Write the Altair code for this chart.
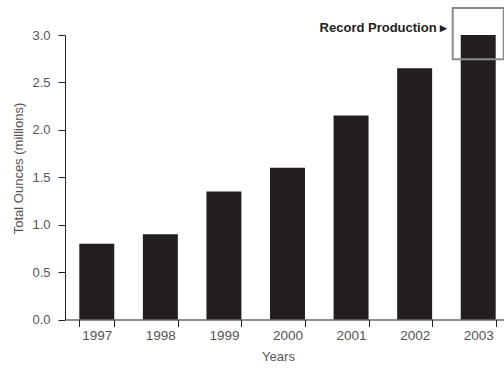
import altair as alt
import pandas as pd

years = ["1997", "1998", "1999", "2000", "2001", "2002", "2003"]
ounces = [0.8, 0.9, 1.35, 1.6, 2.15, 2.65, 3.0]

df = pd.DataFrame({"Year": years, "Ounces": ounces})
note = pd.DataFrame({"Year": ["2003"], "y": [3.072], "label": ["Record Production \u25b8"]})
box = pd.DataFrame({"Year": ["2003"], "top": [3.285], "bottom": [2.745]})

FONT = "Liberation Sans"

xscale = alt.Scale(domain=years, range=[0, 445], paddingInner=0.45, paddingOuter=0.225)
yscale = alt.Scale(domain=[0, 3], nice=False, zero=True)

bars = alt.Chart(df).mark_bar(color="#231f20").encode(
    x=alt.X("Year:N", scale=xscale, sort=years,
            axis=alt.Axis(title="Years", labelAngle=0, tickBand="extent", tickSize=7,
                          labelPadding=2, titlePadding=8, titleX=213, labelFontSize=13.5)),
    y=alt.Y("Ounces:Q", scale=yscale,
            axis=alt.Axis(title="Total Ounces (millions)", values=[0, 0.5, 1, 1.5, 2, 2.5, 3],
                          format=".1f", tickSize=7, labelPadding=8, grid=False,
                          titlePadding=6, titleY=133)),
)

rect = alt.Chart(box).mark_bar(filled=False, stroke="#8a8a8a", strokeWidth=2, size=51).encode(
    x=alt.X("Year:N", scale=xscale, sort=years),
    y=alt.Y("top:Q", scale=yscale),
    y2="bottom:Q",
)

text = alt.Chart(note).mark_text(align="right", baseline="middle", dx=-31, font=FONT,
                                 fontSize=13, fontWeight="bold", color="#231f20").encode(
    x=alt.X("Year:N", scale=xscale, sort=years),
    y=alt.Y("y:Q", scale=yscale),
    text="label:N",
)

chart = alt.layer(bars, rect, text).properties(
    width=439, height=284.5,
    background="white",
    autosize=alt.AutoSizeParams(type="none"),
    padding={"left": 65, "top": 35, "right": 0, "bottom": 50},
).configure_view(strokeWidth=0, stroke="transparent").configure_axis(
    grid=False, domainColor="#231f20", tickColor="#231f20",
    labelColor="#555555", titleColor="#555555", labelFont=FONT,
    titleFont=FONT, labelFontSize=13, titleFontSize=13, titleFontWeight="normal",
)

chart.save("out.html", embed_options={"renderer": "svg", "actions": False})
